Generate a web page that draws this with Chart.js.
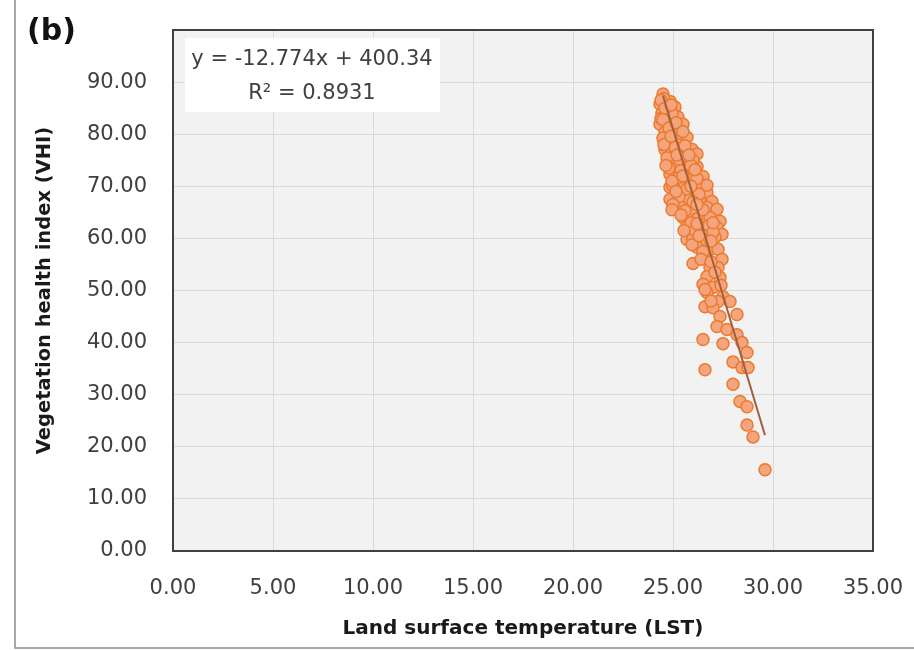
<!DOCTYPE html>
<html>
<head>
<meta charset="utf-8">
<script src="https://cdn.jsdelivr.net/npm/chart.js@4.4.1/dist/chart.umd.min.js"></script>
<style>
  html, body { margin: 0; padding: 0; background: #ffffff; }
  canvas { display: block; }
</style>
</head>
<body>
<canvas id="grafica" width="914" height="650"></canvas>
<script>
// Land surface temperature (LST) per sample
const LST = [
  24.50, 24.35, 24.85, 24.70, 25.10, 24.35, 24.85, 25.25, 24.60, 25.20,
  25.50, 24.75, 25.35, 25.70, 24.85, 25.45, 25.95, 26.20, 25.10, 25.70,
  25.00, 26.20, 24.85, 26.00, 26.50, 24.85, 25.50, 26.35, 25.20, 26.00,
  26.70, 24.85, 25.70, 26.35, 26.95, 25.35, 26.00, 26.70, 27.20, 25.50,
  26.20, 26.85, 27.35, 25.70, 26.50, 27.20, 25.85, 26.70, 27.45, 25.70,
  26.00, 26.50, 27.10, 26.20, 26.85, 27.25, 27.45, 26.00, 26.85, 27.25,
  26.70, 27.35, 26.50, 27.00, 26.70, 27.50, 26.60, 27.25, 27.00, 27.85,
  28.20, 27.35, 27.20, 27.70, 28.20, 26.50, 27.50, 28.45, 28.70, 28.00,
  28.45, 28.75, 26.60, 28.00, 28.35, 28.70, 28.70, 29.00, 29.60,
  24.45, 24.55, 24.95, 24.40, 25.00, 24.50, 25.30, 24.60, 25.10, 25.60,
  24.70, 25.30, 26.00, 24.80, 25.40, 25.90, 25.20, 25.80, 26.20, 25.00,
  25.70, 26.70, 25.30, 26.30, 25.00, 26.00, 26.50, 25.60, 25.90, 26.80,
  26.10, 27.00, 25.95, 26.50, 26.40, 26.90, 27.10, 26.60, 27.40, 26.90,
  24.40, 24.60, 24.90, 24.50, 24.80, 25.15, 24.55, 24.90, 25.50, 24.65,
  25.20, 25.80, 24.95, 25.50, 26.10, 25.15, 25.90, 24.95, 25.40, 26.20,
  25.55, 26.30, 26.90, 26.20, 27.00
];

// Vegetation health index (VHI), same order as LST
const VHI = [
  87.7, 85.8, 86.3, 84.4, 85.2, 81.9, 82.5, 83.3, 80.4, 81.0,
  81.9, 78.5, 78.7, 79.4, 76.2, 76.7, 77.1, 76.2, 74.6, 74.8,
  74.2, 73.8, 72.3, 72.7, 71.9, 69.8, 70.8, 70.4, 68.8, 69.0,
  68.8, 67.5, 67.5, 67.1, 67.1, 66.2, 65.6, 66.0, 65.6, 64.0,
  63.7, 64.0, 63.3, 62.3, 62.1, 62.1, 60.8, 60.8, 60.8, 59.8,
  60.0, 59.8, 60.2, 58.3, 57.9, 57.9, 56.0, 55.2, 54.4, 54.4,
  52.7, 52.5, 51.2, 50.6, 49.6, 48.8, 46.9, 47.9, 46.7, 47.9,
  45.4, 45.0, 43.1, 42.5, 41.5, 40.6, 39.8, 40.0, 38.1, 36.3,
  35.2, 35.2, 34.8, 32.0, 28.7, 27.7, 24.2, 21.9, 15.6,
  84.0, 86.8, 84.0, 83.0, 80.0, 79.2, 80.2, 77.0, 77.5, 77.8,
  75.5, 75.2, 75.0, 73.5, 73.0, 74.0, 71.5, 71.2, 71.5, 70.0,
  69.5, 70.2, 68.0, 68.5, 66.5, 67.0, 65.5, 65.3, 63.0, 62.5,
  61.5, 61.2, 58.8, 57.5, 56.0, 55.5, 53.5, 50.2, 51.0, 48.0,
  86.5, 85.0, 85.6, 82.8, 81.2, 82.2, 78.0, 79.6, 80.5, 74.0,
  76.0, 76.0, 71.0, 72.0, 73.2, 69.0, 70.0, 65.5, 64.5, 66.5,
  61.5, 60.5, 59.5, 62.8, 63.0
];

// Linear trend reported on the chart
const TREND_SLOPE = -12.774;
const TREND_INTERCEPT = 400.34;
const TREND_R2 = 0.8931;
const TREND_X_RANGE = [24.5, 29.6];

const X_TICKS = [0, 5, 10, 15, 20, 25, 30, 35];
const Y_TICKS = [0, 10, 20, 30, 40, 50, 60, 70, 80, 90, 100];
const Y_HIDDEN_LABELS = [100];

const FONT = "'DejaVu Sans', Verdana, sans-serif";

const puntos = LST.map((x, i) => ({ x, y: VHI[i] }));
const tendencia = TREND_X_RANGE.map((x) => ({ x, y: TREND_SLOPE * x + TREND_INTERCEPT }));

const fmt = (v) => Number(v).toFixed(2);

const decoracion = {
  id: "decoracion",
  beforeDraw(chart) {
    const { ctx, chartArea: a } = chart;
    ctx.save();
    ctx.fillStyle = "#f2f2f2";
    ctx.fillRect(a.left, a.top, a.right - a.left, a.bottom - a.top);
    ctx.restore();
  },
  beforeDatasetsDraw(chart) {
    const { ctx, chartArea: a } = chart;
    ctx.save();
    // caja blanca de la ecuación
    ctx.fillStyle = "#ffffff";
    ctx.fillRect(a.left + 12, a.top + 8, 255, 74);
    ctx.fillStyle = "#404040";
    ctx.font = `21px ${FONT}`;
    ctx.textAlign = "center";
    ctx.textBaseline = "middle";
    const cx = a.left + 139;
    ctx.fillText(`y = ${TREND_SLOPE}x + ${TREND_INTERCEPT}`, cx, a.top + 30);
    ctx.fillText(`R\u00b2 = ${TREND_R2}`, cx, a.top + 64);
    ctx.restore();
  },
  afterDraw(chart) {
    const { ctx, chartArea: a, width, height } = chart;
    ctx.save();
    ctx.strokeStyle = "#404040";
    ctx.lineWidth = 2;
    ctx.strokeRect(a.left, a.top, a.right - a.left, a.bottom - a.top);
    // marco exterior de la figura
    ctx.strokeStyle = "#8c8c8c";
    ctx.lineWidth = 1.5;
    ctx.beginPath();
    ctx.moveTo(15, 0);
    ctx.lineTo(15, height - 2);
    ctx.lineTo(width, height - 2);
    ctx.stroke();
    ctx.fillStyle = "#111111";
    ctx.font = `bold 30px ${FONT}`;
    ctx.textAlign = "left";
    ctx.textBaseline = "middle";
    ctx.fillText("(b)", 27, 32);
    ctx.restore();
  },
};

new Chart(document.getElementById("grafica"), {
  type: "scatter",
  data: {
    datasets: [
      {
        label: "Tendencia",
        data: tendencia,
        showLine: true,
        borderColor: "#a0603a",
        borderWidth: 2,
        pointRadius: 0,
        order: 0,
      },
      {
        label: "VHI vs LST",
        data: puntos,
        backgroundColor: "#f4a57e",
        borderColor: "#eb7a2e",
        borderWidth: 1.5,
        pointRadius: 6,
        order: 1,
      },
    ],
  },
  options: {
    responsive: false,
    devicePixelRatio: 1,
    animation: false,
    layout: { padding: { left: 0, top: 30, right: 41, bottom: 0 } },
    plugins: {
      legend: { display: false },
      tooltip: { enabled: false },
    },
    scales: {
      x: {
        type: "linear",
        min: X_TICKS[0],
        max: X_TICKS[X_TICKS.length - 1],
        afterBuildTicks: (scale) => { scale.ticks = X_TICKS.map((v) => ({ value: v })); },
        afterFit: (scale) => {
          scale.height = 99;
          scale.paddingLeft = 0;
          scale.paddingRight = 0;
        },
        grid: { color: "#d9d9d9", lineWidth: 1, drawTicks: false },
        border: { display: false },
        ticks: {
          padding: 25,
          color: "#404040",
          font: { family: FONT, size: 21 },
          callback: (v) => fmt(v),
        },
        title: {
          display: true,
          text: "Land surface temperature (LST)",
          color: "#1a1a1a",
          font: { family: FONT, size: 20, weight: "bold" },
          padding: { top: 0, bottom: 9 },
        },
      },
      y: {
        type: "linear",
        min: Y_TICKS[0],
        max: Y_TICKS[Y_TICKS.length - 1],
        afterBuildTicks: (scale) => { scale.ticks = Y_TICKS.map((v) => ({ value: v })); },
        afterFit: (scale) => {
          scale.width = 173;
          scale.paddingTop = 0;
          scale.paddingBottom = 0;
        },
        grid: { color: "#d9d9d9", lineWidth: 1, drawTicks: false },
        border: { display: false },
        ticks: {
          padding: 26,
          color: "#404040",
          font: { family: FONT, size: 21 },
          callback: (v) => (Y_HIDDEN_LABELS.includes(v) ? "" : fmt(v)),
        },
        title: {
          display: true,
          text: "Vegetation health index (VHI)",
          color: "#1a1a1a",
          font: { family: FONT, size: 19.5, weight: "bold" },
          padding: { top: 33, bottom: 0 },
        },
      },
    },
  },
  plugins: [decoracion],
});
</script>
</body>
</html>
